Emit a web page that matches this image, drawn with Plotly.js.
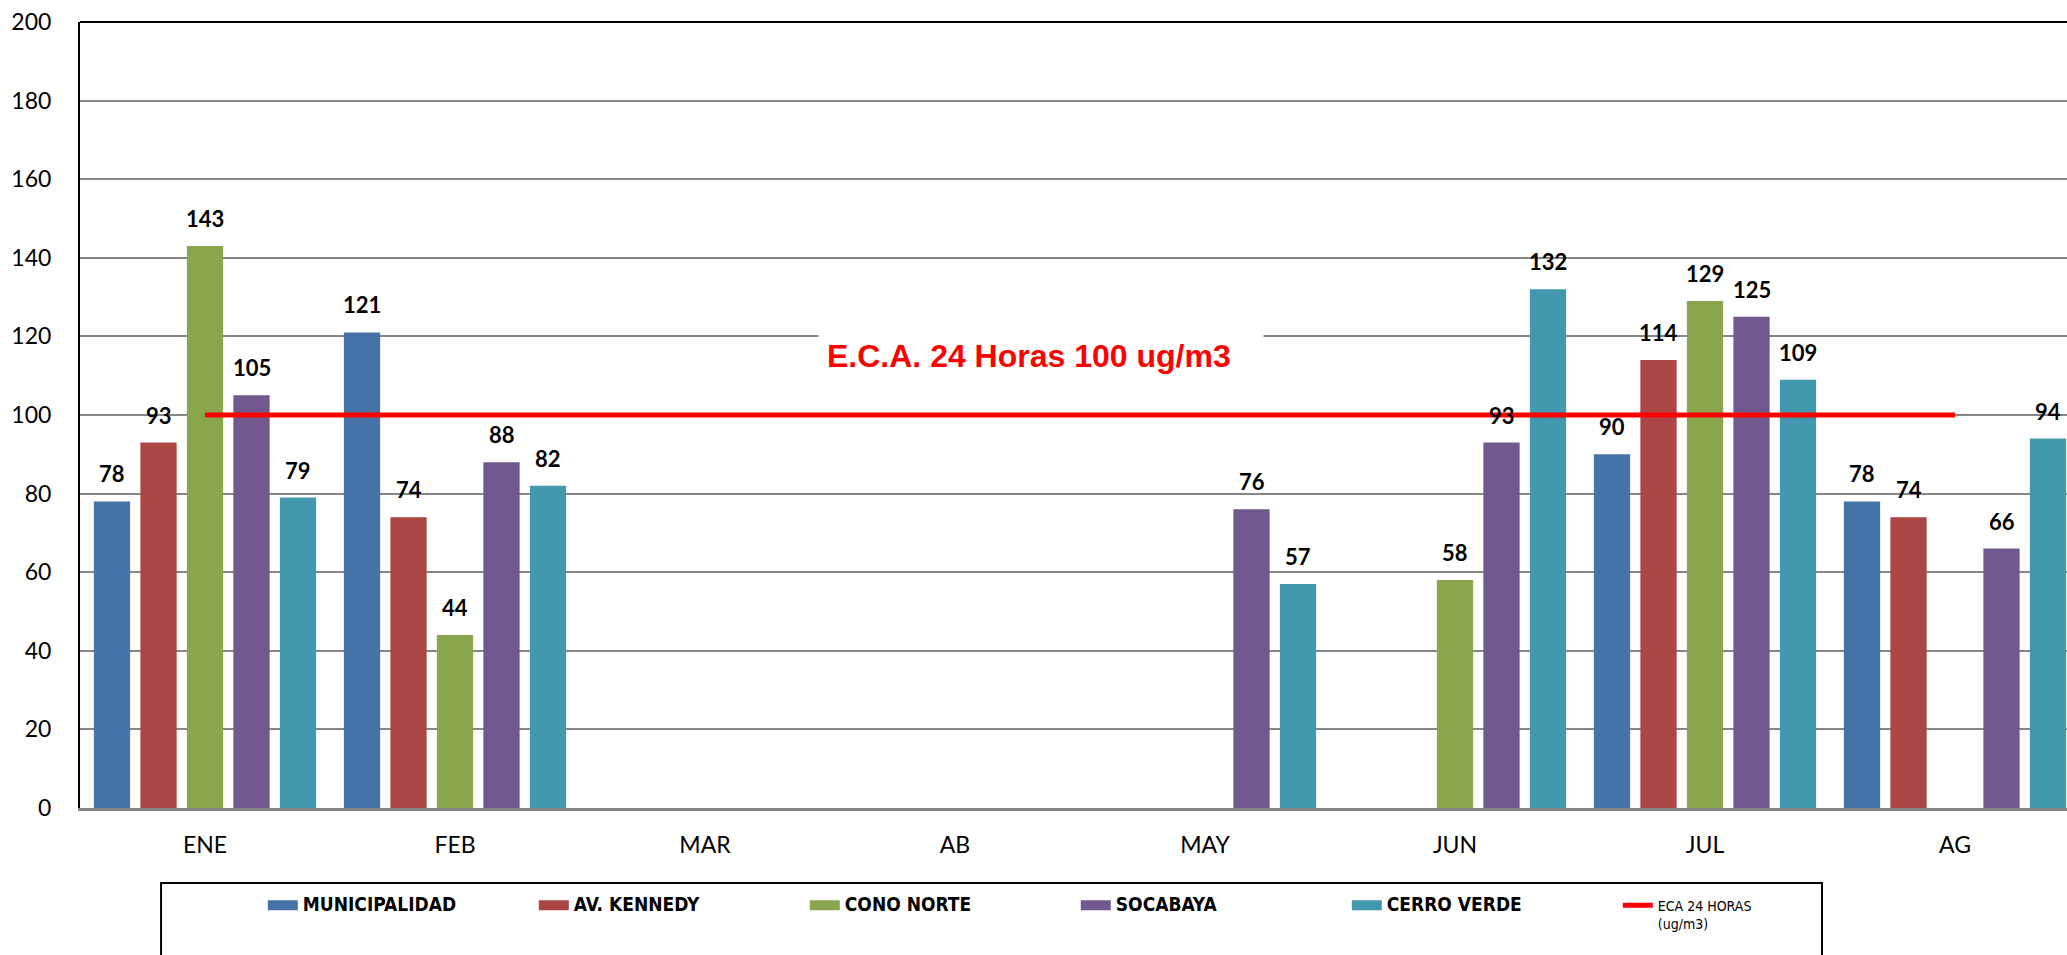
<!DOCTYPE html>
<html><head><meta charset="utf-8">
<script src="https://cdn.plot.ly/plotly-3.0.1.min.js"></script>
<style>html,body{margin:0;padding:0;background:#fff;}</style>
</head><body>
<div id="chart" style="width:2067px;height:955px"></div>
<script>
// ---- data ----
const months = ['ENE', 'FEB', 'MAR', 'AB', 'MAY', 'JUN', 'JUL', 'AG'];
const seriesNames = ['MUNICIPALIDAD', 'AV. KENNEDY', 'CONO NORTE', 'SOCABAYA', 'CERRO VERDE'];
const municipalidad = [78, 121, null, null, null, null, 90, 78];
const avKennedy     = [93, 74, null, null, null, null, 114, 74];
const conoNorte     = [143, 44, null, null, null, 58, 129, null];
const socabaya      = [105, 88, null, null, 76, 93, 125, 66];
const cerroVerde    = [79, 82, null, null, 57, 132, 109, 94];
const ecaLimit      = [100, 100, 100, 100, 100, 100, 100, 100];
const ecaName  = 'ECA 24 HORAS<br>(ug/m3)';
const ecaLabel = 'E.C.A. 24 Horas 100 ug/m3';
const yTicks = [0, 20, 40, 60, 80, 100, 120, 140, 160, 180, 200];

// ---- styles ----
const seriesValues = [municipalidad, avKennedy, conoNorte, socabaya, cerroVerde];
const colors = ['#4572A7', '#AA4643', '#89A54E', '#71588F', '#4198AF'];
const FONT = 'Lato, "Open Sans", "Liberation Sans", sans-serif';
const LEGEND_FONT = '"Liberation Sans Narrow", "DejaVu Sans Condensed", Lato, sans-serif';
const BARGAP = 0.07;

const traces = [];
seriesValues.forEach((vals, i) => {
  traces.push({
    type: 'bar',
    name: seriesNames[i],
    legendgroup: 'g' + i,
    showlegend: false,
    x: months,
    y: vals,
    marker: { color: colors[i], line: { width: 0 } },
    hoverinfo: 'x+y'
  });
});
// legend swatches (wide rectangles like the original legend keys)
seriesValues.forEach((vals, i) => {
  traces.push({
    type: 'scatter',
    mode: 'lines',
    name: '<b><span style="font-size:19px">' + seriesNames[i] + '</span></b>',
    legendgroup: 'g' + i,
    x: [null], y: [null],
    line: { color: colors[i], width: 13 },
    hoverinfo: 'skip'
  });
});

traces.push({
  type: 'scatter',
  mode: 'lines',
  name: ecaName,
  x: months,
  y: ecaLimit,
  line: { color: '#FF0000', width: 5 },
  hoverinfo: 'y'
});

// value labels above each bar
const annotations = [];
const slot = (1 - BARGAP) / seriesValues.length;
seriesValues.forEach((vals, i) => {
  vals.forEach((v, j) => {
    if (v === null) return;
    annotations.push({
      x: j + (i - (seriesValues.length - 1) / 2) * slot,
      y: v,
      xref: 'x', yref: 'y',
      text: '<b>' + Math.round(v) + '</b>',
      showarrow: false,
      yanchor: 'bottom',
      yshift: 12,
      font: { family: FONT, size: 22, color: '#000' }
    });
  });
});

annotations.push({
  x: 0.4836, xref: 'paper',
  y: 115, yref: 'y',
  text: '<b>' + ecaLabel + '</b>',
  showarrow: false,
  bgcolor: '#FFFFFF',
  borderpad: 8,
  width: 428,
  align: 'left',
  font: { family: '"Liberation Sans", Arial, sans-serif', size: 32, color: '#FF0000' }
});

const layout = {
  width: 2067, height: 955,
  margin: { l: 80, r: 0, t: 22, b: 147, pad: 0 },
  paper_bgcolor: '#FFFFFF',
  plot_bgcolor: '#FFFFFF',
  barmode: 'group',
  bargap: BARGAP,
  bargroupgap: 0.22,
  showlegend: true,
  font: { family: FONT, color: '#000' },
  xaxis: {
    type: 'category',
    categoryorder: 'array',
    categoryarray: months,
    range: [-0.5, 7.448],
    showgrid: false,
    showline: true,
    linecolor: '#868686',
    linewidth: 3,
    ticks: 'outside',
    ticklen: 14,
    tickcolor: 'rgba(0,0,0,0)',
    tickfont: { family: FONT, size: 23, color: '#000' },
    fixedrange: true
  },
  yaxis: {
    range: [0, 200],
    tickvals: yTicks,
    showgrid: true,
    gridcolor: '#868686',
    gridwidth: 2,
    zeroline: false,
    showline: true,
    linecolor: '#000',
    linewidth: 2,
    ticks: 'outside',
    ticklen: 22,
    tickcolor: 'rgba(0,0,0,0)',
    tickfont: { family: FONT, size: 23, color: '#000' },
    fixedrange: true
  },
  legend: {
    orientation: 'h',
    x: 0.092, xanchor: 'left',
    y: -0.104, yanchor: 'top',
    valign: 'top',
    entrywidth: 226,
    entrywidthmode: 'pixels',
    bgcolor: 'rgba(0,0,0,0)',
    borderwidth: 0,
    font: { family: LEGEND_FONT, size: 14, color: '#000' },
    traceorder: 'normal'
  },
  shapes: [
    { type: 'line', xref: 'paper', yref: 'paper', x0: 0, x1: 1, y0: 1, y1: 1,
      line: { color: '#000', width: 2 } },
    { type: 'rect', xref: 'paper', yref: 'paper', x0: 0.0408, x1: 0.8767, y0: -0.0954, y1: -0.2,
      line: { color: '#000', width: 2 }, fillcolor: 'rgba(0,0,0,0)' }
  ],
  annotations: annotations
};

Plotly.newPlot('chart', traces, layout, { displayModeBar: false, staticPlot: true });
</script>
</body></html>
